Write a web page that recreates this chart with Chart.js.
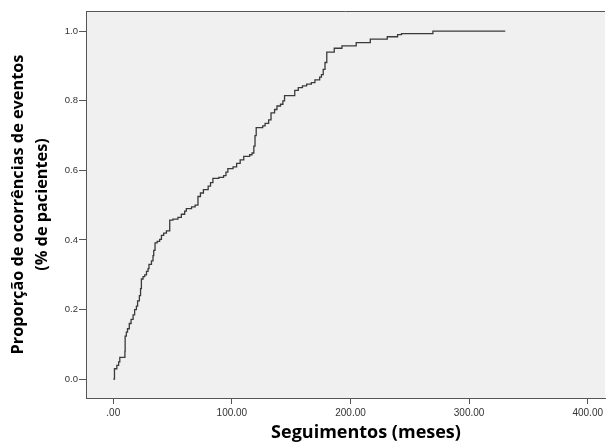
<!DOCTYPE html>
<html>
<head>
<meta charset="utf-8">
<script src="https://cdn.jsdelivr.net/npm/chart.js@4/dist/chart.umd.min.js"></script>
<style>
  html, body { margin: 0; padding: 0; background: #fff; }
</style>
</head>
<body>
<canvas id="incidencia" width="606" height="442"></canvas>
<script>
// tempo de seguimento (meses) em cada evento e proporcao acumulada depois dele
var tempos = [0, 1, 3, 4.5, 5.5, 9.8, 10, 11, 12, 13.5, 15, 16.7, 18, 19.5, 20.5, 22, 23, 23.7,
  25.1, 26.5, 28, 29.3, 30.1, 32.2, 33.5, 34.1, 35.2, 37, 39.1, 40.6, 42.5, 44.8, 47.6, 50.3,
  54.5, 57.4, 60.2, 61.6, 66, 69, 71.4, 73.5, 76, 80, 82, 84, 89, 93, 95, 96.6, 101, 104, 107,
  110, 115, 117, 118.5, 119.5, 120.5, 126, 128, 131, 133, 136, 138, 141, 143, 144.4, 153, 156,
  159.5, 163, 167, 170, 174, 175.5, 177, 178.5, 180, 186.3, 192.8, 204.8, 216.7, 231, 239.7,
  243, 269.5, 330.5];
var proporcoes = [0, 0.03, 0.04, 0.05, 0.063, 0.08, 0.124, 0.135, 0.145, 0.16, 0.172, 0.185, 0.2,
  0.21, 0.225, 0.24, 0.26, 0.288, 0.295, 0.3, 0.31, 0.318, 0.33, 0.34, 0.355, 0.37, 0.392, 0.396,
  0.402, 0.413, 0.42, 0.426, 0.457, 0.46, 0.465, 0.474, 0.483, 0.49, 0.495, 0.5, 0.525, 0.535,
  0.545, 0.555, 0.565, 0.577, 0.58, 0.585, 0.595, 0.605, 0.61, 0.62, 0.63, 0.64, 0.645, 0.65,
  0.67, 0.7, 0.723, 0.728, 0.735, 0.745, 0.765, 0.775, 0.785, 0.79, 0.8, 0.815, 0.83, 0.838,
  0.843, 0.848, 0.852, 0.86, 0.868, 0.875, 0.89, 0.91, 0.94, 0.951, 0.958, 0.967, 0.977, 0.984,
  0.99, 0.993, 1.0, 1.0];

var xTicks = [0, 100, 200, 300, 400];
var xTickLabels = ['.00', '100.00', '200.00', '300.00', '400.00'];
var yTicks = [0, 0.2, 0.4, 0.6, 0.8, 1.0];
var yTickLabels = ['0.0', '0.2', '0.4', '0.6', '0.8', '1.0'];

var pontos = tempos.map(function (t, i) { return { x: t, y: proporcoes[i] }; });

// fundo cinza, linha de cima da area do grafico, titulo do eixo x
var moldura = {
  id: 'moldura',
  beforeDraw: function (chart) {
    var a = chart.chartArea, ctx = chart.ctx;
    ctx.save();
    ctx.fillStyle = '#f0f0f0';
    ctx.fillRect(a.left, a.top, a.right - a.left, a.bottom - a.top);
    ctx.strokeStyle = '#555';
    ctx.lineWidth = 1;
    ctx.beginPath();
    ctx.moveTo(a.left, a.top + 0.5);
    ctx.lineTo(a.right, a.top + 0.5);
    ctx.stroke();
    ctx.restore();
  },
  afterDraw: function (chart) {
    var ctx = chart.ctx;
    ctx.save();
    ctx.font = 'bold 18px "Open Sans"';
    ctx.fillStyle = '#000';
    ctx.textAlign = 'center';
    ctx.textBaseline = 'alphabetic';
    ctx.fillText('Seguimentos (meses)', 366, 438);
    ctx.restore();
  }
};

var chart = new Chart(document.getElementById('incidencia'), {
  type: 'line',
  data: {
    datasets: [{
      data: pontos,
      stepped: 'before',
      borderColor: '#3a3a3a',
      borderWidth: 1.3,
      pointRadius: 0,
      fill: false
    }]
  },
  options: {
    responsive: false,
    animation: false,
    layout: { padding: { top: 11, left: 0, right: 0, bottom: 0 } },
    plugins: { legend: { display: false }, tooltip: { enabled: false } },
    scales: {
      x: {
        type: 'linear',
        min: -23,
        max: 414.6,
        afterBuildTicks: function (s) { s.ticks = xTicks.map(function (v) { return { value: v }; }); },
        afterFit: function (s) { s.height = 44; },
        ticks: {
          autoSkip: false, maxRotation: 0, padding: 3,
          color: '#333', font: { family: 'Liberation Sans', size: 10 },
          callback: function (v) { return xTickLabels[xTicks.indexOf(v)]; }
        },
        grid: { drawOnChartArea: false, drawTicks: true, tickLength: 6, color: '#555' },
        border: { display: true, color: '#555' },
        title: { display: false }
      },
      y: {
        type: 'linear',
        min: -0.054,
        max: 1.058,
        afterBuildTicks: function (s) { s.ticks = yTicks.map(function (v) { return { value: v }; }); },
        afterFit: function (s) { s.width = 86; },
        ticks: {
          autoSkip: false, padding: 1,
          color: '#333', font: { family: 'Liberation Sans', size: 9.5 },
          callback: function (v) { return yTickLabels[yTicks.indexOf(v)]; }
        },
        grid: { drawOnChartArea: false, drawTicks: true, tickLength: 7, color: '#555' },
        border: { display: true, color: '#555' },
        title: {
          display: true,
          text: ['Proporção de ocorrências de eventos', '(% de pacientes)'],
          color: '#000',
          font: { family: 'Open Sans', size: 16.3, weight: 'bold', lineHeight: 1.5 },
          padding: { top: 6, bottom: 0 }
        }
      }
    }
  },
  plugins: [moldura]
});
</script>
</body>
</html>
